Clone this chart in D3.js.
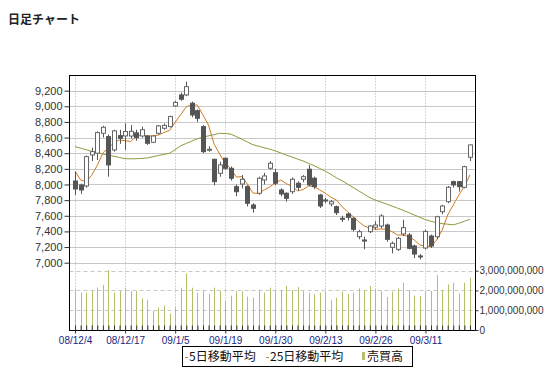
<!DOCTYPE html>
<html><head><meta charset="utf-8">
<script src="https://cdn.jsdelivr.net/npm/d3@7/dist/d3.min.js"></script>
<style>
body{margin:0;background:#fff;}
svg{display:block;}
</style></head>
<body>
<svg id="c" width="553" height="372"></svg>
<script>
const title = "日足チャート";
const dates = ["08/12/4","12/5","12/8","12/9","12/10","12/11","12/12","12/15","12/16","08/12/17","12/18","12/19","12/22","12/24","12/25","12/26","12/29","12/30",
"09/1/5","1/6","1/7","1/8","1/9","1/13","1/14","1/15","1/16","09/1/19","1/20","1/21","1/22","1/23","1/26","1/27","1/28","1/29",
"09/1/30","2/2","2/3","2/4","2/5","2/6","2/9","2/10","2/12","09/2/13","2/16","2/17","2/18","2/19","2/20","2/23","2/24","2/25",
"09/2/26","2/27","3/2","3/3","3/4","3/5","3/6","3/9","3/10","09/3/11","3/12","3/13","3/16","3/17","3/18","3/19","3/23","3/24"];
const labelIdx = [0,9,18,27,36,45,54,63];
const openP  = [8045,7994,7981,8378,8400,8655,8612,8442,8625,8621,8620,8660,8620,8620,8540,8655,8719,8740,9004,9145,9145,9039,8944,8740,8450,8322,8143,8335,8207,7972,8006,7972,7738,7888,8058,8207,8151,7930,7888,7908,8016,8067,8195,8080,7866,7802,7751,7716,7568,7623,7568,7333,7290,7397,7453,7469,7482,7197,7171,7367,7354,7214,7086,7188,7341,7332,7652,7780,8036,8036,7964,8348];
const highP  = [8164,8010,8370,8470,8680,8750,8640,8700,8700,8781,8760,8700,8740,8630,8630,8760,8780,8880,9070,9175,9315,9060,8960,8760,8490,8330,8290,8345,8230,8000,8120,7990,7760,8100,8150,8300,8200,7950,7900,8090,8040,8120,8250,8100,7880,7830,7800,7730,7600,7640,7580,7420,7333,7480,7530,7620,7500,7270,7330,7550,7380,7230,7110,7420,7360,7600,7740,7980,8050,8045,8240,8510];
const lowP   = [7866,7880,7960,8300,8314,8600,8100,8420,8520,8442,8590,8560,8600,8506,8530,8640,8700,8730,8990,9070,9130,8860,8800,8400,8420,7990,8100,8190,8050,7850,7950,7720,7640,7870,8000,8190,7990,7850,7780,7880,7920,8030,7980,7940,7700,7760,7720,7610,7520,7540,7400,7300,7171,7380,7420,7440,7270,7120,7150,7340,7170,7060,7040,7170,7190,7300,7620,7760,7960,7910,7950,8300];
const closeP = [7943,7930,8356,8420,8663,8732,8250,8686,8591,8677,8680,8600,8700,8527,8620,8749,8755,8868,9050,9090,9251,8889,8847,8420,8450,8036,8250,8207,8080,7908,8067,7760,7696,8080,8109,8271,8016,7879,7824,8067,7964,8100,7994,7972,7725,7800,7780,7640,7565,7580,7427,7397,7288,7469,7482,7597,7299,7248,7312,7448,7184,7111,7080,7400,7214,7588,7725,7964,7994,7972,8228,8506];
const ma5 = [8173,8058,8036,8120,8245,8404,8468,8535,8569,8560,8549,8620,8632,8621,8619,8633,8665,8692,8797,8894,8994,9019,9015,8889,8760,8517,8388,8272,8202,8095,8101,8004,7889,7888,7929,7969,8019,8057,8010,7979,7918,7935,7981,7972,7930,7888,7837,7802,7716,7652,7588,7524,7469,7440,7427,7431,7427,7397,7354,7354,7333,7290,7226,7214,7205,7290,7418,7610,7738,7866,7972,8122];
const ma25 = [8484,8464,8444,8424,8408,8390,8375,8360,8345,8331,8328,8330,8333,8339,8355,8370,8386,8400,8445,8495,8525,8555,8585,8605,8622,8638,8654,8652,8644,8612,8578,8543,8508,8490,8470,8452,8430,8403,8376,8350,8326,8300,8270,8240,8205,8170,8130,8085,8048,8005,7962,7918,7875,7832,7800,7775,7750,7724,7697,7670,7640,7610,7580,7550,7530,7512,7500,7492,7484,7505,7530,7555];
const volume = [2.06,1.89,1.89,1.97,2.14,2.28,3.03,1.89,1.97,2.11,1.97,1.97,1.60,1.53,0.96,1.13,1.23,0.84,1.16,2.14,2.87,2.14,1.89,1.97,1.81,2.14,1.97,1.47,1.74,1.97,1.97,1.69,1.63,2.04,1.89,2.14,1.97,2.02,2.24,2.02,2.17,1.97,1.89,1.81,1.89,1.97,1.52,1.63,1.94,1.81,1.89,2.11,2.02,2.23,2.06,1.97,1.67,1.94,2.11,2.39,2.02,1.74,1.72,1.97,1.97,2.78,2.02,2.31,2.39,1.86,2.39,2.65].map(v=>v*1e9);
const priceTicks = [7000,7200,7400,7600,7800,8000,8200,8400,8600,8800,9000,9200];
const volTicks = [0,1e9,2e9,3e9];
const legendItems = ["5日移動平均","25日移動平均","売買高"];

const L=69.5, R=475.5, T=75.5, B=330.5;
const svg = d3.select("#c");
const font = "'Liberation Sans', Arial, sans-serif";
const n = closeP.length;
const x = d3.scaleLinear().domain([-1, n]).range([L, R]);
const y = d3.scaleLinear().domain([7000, 9400]).range([262.7, 75]);
const yv = d3.scaleLinear().domain([0, 3e9]).range([330, 270.7]);

svg.append("text").attr("x",8).attr("y",24).text(title)
  .attr("font-family","'Noto Sans CJK JP', sans-serif").attr("font-weight","bold").attr("font-size",12).attr("fill","#222");

const g = svg.append("g");
g.selectAll("line.hp").data(priceTicks).join("line")
  .attr("x1",L).attr("x2",R).attr("y1",d=>Math.round(y(d))+0.5).attr("y2",d=>Math.round(y(d))+0.5)
  .attr("stroke","#c8c8c8").attr("stroke-width",1);
g.selectAll("line.hv").data(volTicks.slice(1)).join("line")
  .attr("x1",L).attr("x2",R).attr("y1",d=>Math.round(yv(d))+0.5).attr("y2",d=>Math.round(yv(d))+0.5)
  .attr("stroke","#c8c8c8").attr("stroke-dasharray","4,3");
g.selectAll("line.vg").data(labelIdx).join("line")
  .attr("x1",d=>Math.round(x(d))+0.5).attr("x2",d=>Math.round(x(d))+0.5).attr("y1",T).attr("y2",B)
  .attr("stroke","#b0b0b0").attr("stroke-dasharray","1,2");

svg.append("g").selectAll("line").data(volume).join("line")
  .attr("x1",(d,i)=>Math.round(x(i))+0.5).attr("x2",(d,i)=>Math.round(x(i))+0.5)
  .attr("y1",yv(0)).attr("y2",d=>yv(d))
  .attr("stroke","#b6be6c").attr("stroke-width",1);

const line = d3.line().x((d,i)=>x(i)).y(d=>y(d));
svg.append("path").attr("d",line(ma25)).attr("fill","none").attr("stroke","#8c9a3c").attr("stroke-width",1);
svg.append("path").attr("d",line(ma5)).attr("fill","none").attr("stroke","#d07a20").attr("stroke-width",1);

const cg = svg.append("g");
const idx = d3.range(n);
cg.selectAll("line.w").data(idx).join("line")
  .attr("x1",i=>Math.round(x(i))+0.5).attr("x2",i=>Math.round(x(i))+0.5)
  .attr("y1",i=>y(highP[i])).attr("y2",i=>y(lowP[i]))
  .attr("stroke","#555");
cg.selectAll("rect").data(idx).join("rect")
  .attr("x",i=>Math.round(x(i))-1.5).attr("width",4)
  .attr("y",i=>y(Math.max(openP[i],closeP[i])))
  .attr("height",i=>Math.max(1,Math.abs(y(openP[i])-y(closeP[i]))))
  .attr("fill",i=>closeP[i]>=openP[i]?"#fff":"#555")
  .attr("stroke",i=>closeP[i]>=openP[i]?"#666":"#555").attr("stroke-width",1);

svg.append("rect").attr("x",L).attr("y",T).attr("width",R-L).attr("height",B-T)
  .attr("fill","none").attr("stroke","#000");

const ax = svg.append("g").attr("transform",`translate(${L},0)`)
  .call(d3.axisLeft(y).tickValues(priceTicks).tickFormat(d3.format(",")).tickSize(5).tickPadding(2));
ax.select(".domain").remove();
ax.selectAll("text").attr("font-family",font).attr("font-size",11).attr("fill","#333");
ax.selectAll("line").attr("stroke","#333");
const ar = svg.append("g").attr("transform",`translate(${R},0)`)
  .call(d3.axisRight(yv).tickValues(volTicks).tickFormat(d3.format(",")).tickSize(3).tickPadding(1));
ar.select(".domain").remove();
ar.selectAll("text").attr("font-family",font).attr("font-size",10).attr("fill","#333");
ar.selectAll("line").attr("stroke","#333");
const am = svg.append("g").attr("transform",`translate(0,${B})`)
  .call(d3.axisBottom(x).tickValues(idx).tickFormat("").tickSize(-5));
am.select(".domain").remove();
am.selectAll("line").attr("stroke","#333");
const ab = svg.append("g").attr("transform",`translate(0,${B})`)
  .call(d3.axisBottom(x).tickValues(labelIdx).tickFormat(i=>dates[i]).tickSize(3).tickPadding(3));
ab.select(".domain").remove();
ab.selectAll("text").attr("font-family",font).attr("font-size",10).attr("fill","#1a237e");
ab.selectAll("line").attr("stroke","#333");

const lg = svg.append("g");
lg.append("rect").attr("x",182.5).attr("y",346.5).attr("width",230).attr("height",20).attr("fill","#fff").attr("stroke","#000");
const lf = "'Noto Sans CJK JP', sans-serif";
lg.append("line").attr("x1",185).attr("x2",188).attr("y1",357.5).attr("y2",357.5).attr("stroke","#d07a20");
lg.append("text").attr("x",189).attr("y",361).text(legendItems[0]).attr("font-family",lf).attr("font-size",12).attr("fill","#111");
lg.append("line").attr("x1",266).attr("x2",269).attr("y1",357.5).attr("y2",357.5).attr("stroke","#8c9a3c");
lg.append("text").attr("x",270).attr("y",361).text(legendItems[1]).attr("font-family",lf).attr("font-size",12).attr("fill","#111");
lg.append("rect").attr("x",362).attr("y",352).attr("width",3).attr("height",8).attr("fill","#b6be6c");
lg.append("text").attr("x",367).attr("y",361).text(legendItems[2]).attr("font-family",lf).attr("font-size",12).attr("fill","#111");
</script>
</body></html>
